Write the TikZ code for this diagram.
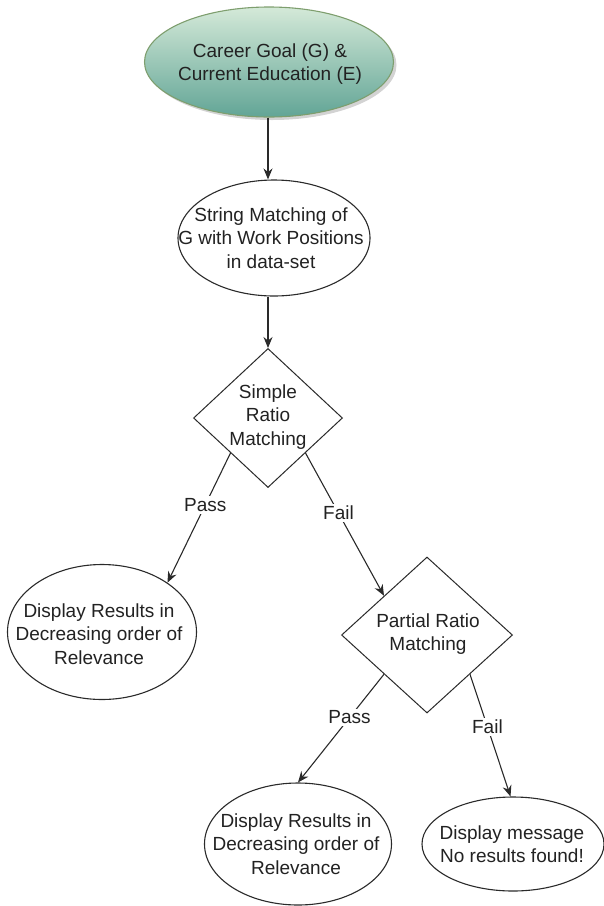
\documentclass[tikz,border=0pt]{standalone}
\usepackage{fontspec}
\setmainfont{Liberation Sans}
\usetikzlibrary{shapes.geometric,arrows.meta,shadows}
\definecolor{txtc}{HTML}{222222}
\definecolor{linec}{HTML}{2A2A2A}
\definecolor{gtop}{HTML}{D4E9D8}
\definecolor{gbot}{HTML}{62A596}
\definecolor{gborder}{HTML}{7E9E6E}
\tikzset{
  ell/.style={ellipse, draw=linec, line width=1.1pt, inner sep=0pt, fill=white},
  startell/.style={ellipse, draw=gborder, line width=1.1pt, inner sep=0pt,
    top color=gtop, bottom color=gbot,
    drop shadow={opacity=0.35, shadow xshift=3pt, shadow yshift=-3pt}},
  dia/.style={diamond, draw=linec, line width=1pt, inner sep=0pt, fill=white},
  txt/.style={align=center, text=txtc, font=\fontsize{19pt}{23.5pt}\selectfont, inner sep=0pt},
  arr/.style={draw=linec, line width=1.1pt, -{Stealth[length=11pt,width=9pt]}},
  lbl/.style={fill=white, text=txtc, font=\fontsize{19pt}{23pt}\selectfont, inner sep=2pt}
}
\begin{document}
\begin{tikzpicture}[x=1pt,y=-1pt]
\useasboundingbox (0,0) rectangle (604,906);
% nodes
\node[startell, minimum width=249pt, minimum height=110pt] (e1) at (269,62) {};
\node[txt] (t1) at (270,64) {Career Goal (G) \&\\Current Education (E)};
\node[ell, minimum width=192pt, minimum height=116pt] (e2) at (274,238) {};
\node[txt] (t2) at (271,238) {String Matching of\\G with Work Positions\\in data-set};
\node[dia, minimum width=149pt, minimum height=139pt] (d1) at (268,418) {};
\node[txt] (t3) at (268,417) {Simple\\Ratio\\Matching};
\node[ell, minimum width=189pt, minimum height=135pt] (e3) at (102,632) {};
\node[txt] (t4) at (99,634) {Display Results in\\Decreasing order of\\Relevance};
\node[dia, minimum width=171pt, minimum height=156pt] (d2) at (427,635) {};
\node[txt] (t5) at (428,634) {Partial Ratio\\Matching};
\node[ell, minimum width=187pt, minimum height=122pt] (e4) at (298,844) {};
\node[txt] (t6) at (296,844) {Display Results in\\Decreasing order of\\Relevance};
\node[ell, minimum width=182pt, minimum height=94pt] (e5) at (513,844) {};
\node[txt] (t7) at (512,844) {Display message\\No results found!};
% connectors
\draw[arr] (e1.south -| d1.north) -- (e2.north -| d1.north);
\draw[arr] (e2.south -| d1.north) -- (d1.north);
\draw[arr] (d1.south west) -- node[lbl, pos=0.4] {Pass} (e3.37);
\draw[arr] (d1.south east) -- node[lbl, pos=0.42] {Fail} (d2.north west);
\draw[arr] (d2.south west) -- node[lbl, pos=0.4] {Pass} (e4.north);
\draw[arr] (d2.south east) -- node[lbl, pos=0.43] {Fail} (e5.93);
\end{tikzpicture}
\end{document}
